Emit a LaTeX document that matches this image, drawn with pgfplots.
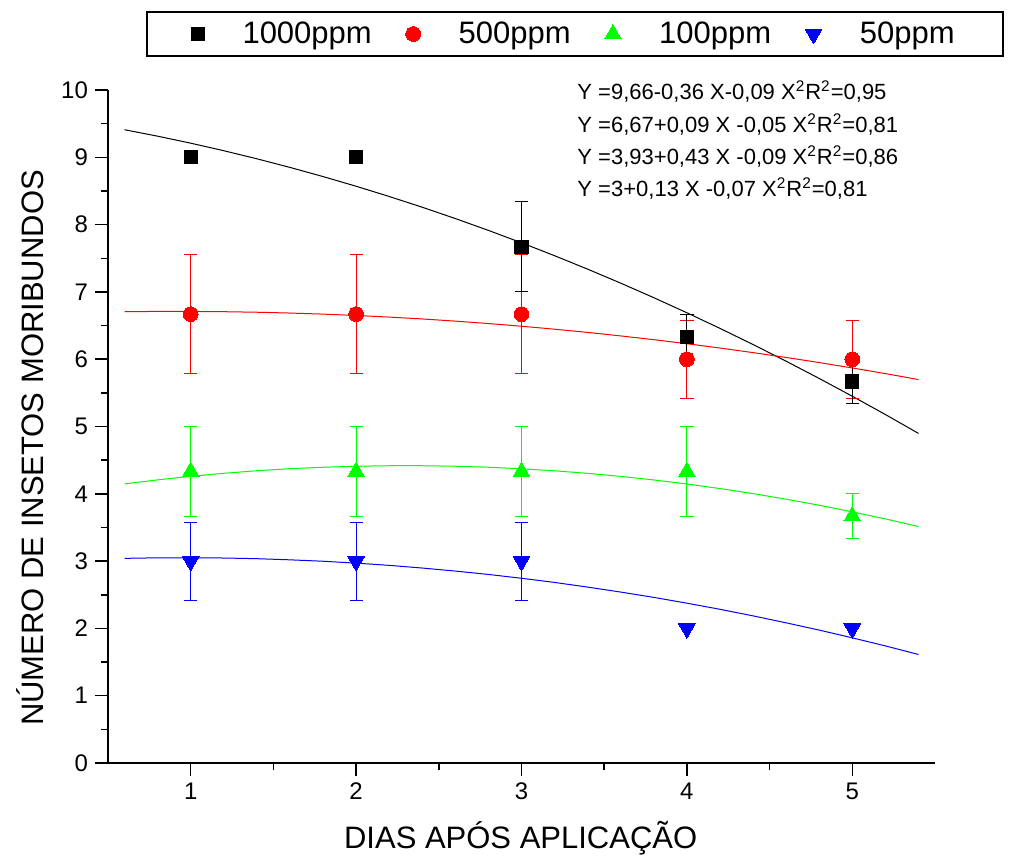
\documentclass[border=0pt]{standalone}
\usepackage{fontspec}
\setmainfont{Liberation Sans}
\usepackage{pgfplots}
\usepackage{pgfplotstable}
\pgfplotsset{compat=1.18}

% measured points: x, y, error
\pgfplotstableread{
x y e
3 7.67 0.67
4 6.33 0.33
5 5.67 0.33
}\blackerr
\pgfplotstableread{
x y
1 9.00
2 9.00
3 7.67
4 6.33
5 5.67
}\blackpts
\pgfplotstableread{
x y e
1 6.67 0.88
2 6.67 0.88
3 6.67 0.88
4 6.00 0.58
5 6.00 0.58
}\redpts
\pgfplotstableread{
x y e
1 4.33 0.67
2 4.33 0.67
3 4.33 0.67
4 4.33 0.67
5 3.67 0.33
}\greenpts
\pgfplotstableread{
x y e
1 3.00 0.58
2 3.00 0.58
3 3.00 0.58
}\blueerr
\pgfplotstableread{
x y
1 3.00
2 3.00
3 3.00
4 2.00
5 2.00
}\bluepts

% fitted curves
\pgfplotstableread{
x k r g b
0.6 9.410 6.706 4.147 3.041
0.8 9.314 6.710 4.207 3.049
1.0 9.210 6.710 4.260 3.050
1.2 9.098 6.706 4.305 3.046
1.4 8.978 6.698 4.343 3.036
1.6 8.850 6.686 4.373 3.019
1.8 8.714 6.670 4.395 2.998
2.0 8.570 6.650 4.410 2.970
2.2 8.418 6.626 4.417 2.937
2.4 8.258 6.598 4.417 2.897
2.6 8.090 6.566 4.410 2.852
2.8 7.914 6.530 4.395 2.802
3.0 7.730 6.490 4.372 2.745
3.2 7.538 6.446 4.342 2.683
3.4 7.338 6.398 4.304 2.614
3.6 7.130 6.346 4.259 2.540
3.8 6.914 6.290 4.206 2.461
4.0 6.690 6.230 4.146 2.375
4.2 6.458 6.166 4.078 2.284
4.4 6.218 6.098 4.003 2.186
4.6 5.970 6.026 3.920 2.083
4.8 5.714 5.950 3.830 1.975
5.0 5.450 5.870 3.732 1.860
5.2 5.178 5.786 3.627 1.740
5.4 4.898 5.698 3.514 1.613
}\fits

\begin{document}
\begin{tikzpicture}
\path[use as bounding box] (-54pt,-48pt) rectangle (454.5pt,381.5pt);
\begin{axis}[
  at={(0pt,0pt)}, anchor=south west,
  scale only axis, width=413.5pt, height=336.5pt,
  clip=false,
  xmin=0.5, xmax=5.5, ymin=0, ymax=10,
  axis x line*=bottom, axis y line*=left,
  axis line style={line width=0.85pt},
  xtick={1,2,3,4,5}, ytick={0,1,...,10},
  minor x tick num=1, minor y tick num=1,
  tick align=outside,
  major tick length=6.5pt, minor tick length=3.5pt,
  every tick/.style={line width=0.75pt, black},
  tick label style={font=\fontsize{12}{14}\selectfont},
  /pgf/number format/assume math mode=true,
  xlabel={DIAS APÓS APLICAÇÃO},
  ylabel={NÚMERO DE INSETOS MORIBUNDOS},
  label style={font=\fontsize{15.5}{18}\selectfont},
  xlabel style={at={(axis description cs:0.499,0)}, anchor=center, yshift=-37.5pt},
  ylabel style={at={(axis description cs:-0.0943,0.468)}, anchor=center},
  legend columns=4,
  legend style={at={(axis description cs:0.5647,1.0832)}, anchor=center,
    draw=black, line width=1pt, font=\fontsize{15.5}{18}\selectfont,
    inner xsep=22pt, inner ysep=3pt,
    /tikz/every odd column/.append style={column sep=17pt},
    /tikz/every even column/.append style={column sep=15pt}},
  legend cell align=left,
  error bars/error bar style={line width=0.5pt},
  error bars/error mark options={line width=0.5pt, mark size=3.3pt, rotate=90},
]
% curves
\addplot[black, line width=0.5pt, forget plot] table[x=x, y=k] {\fits};
\addplot[red, line width=0.5pt, forget plot] table[x=x, y=r] {\fits};
\addplot[green, line width=0.5pt, forget plot] table[x=x, y=g] {\fits};
\addplot[blue, line width=0.5pt, forget plot] table[x=x, y=b] {\fits};
% error bars
\addplot[green, only marks, mark=none, forget plot, error bars/.cd, y dir=both, y explicit]
  table[x=x, y=y, y error=e] {\greenpts};
\addplot[blue, only marks, mark=none, forget plot, error bars/.cd, y dir=both, y explicit]
  table[x=x, y=y, y error=e] {\blueerr};
\addplot[red, only marks, mark=none, forget plot, error bars/.cd, y dir=both, y explicit]
  table[x=x, y=y, y error=e] {\redpts};
\addplot[black, only marks, mark=none, forget plot, error bars/.cd, y dir=both, y explicit]
  table[x=x, y=y, y error=e] {\blackerr};
% markers
\addplot[only marks, mark=square*, mark size=3.3pt, draw=black, fill=black, line width=0pt]
  table[x=x, y=y] {\blackpts};
\addlegendentry{1000ppm}
\addplot[only marks, mark=*, mark size=3.7pt, draw=red, fill=red, line width=0pt]
  table[x=x, y=y] {\redpts};
\addlegendentry{500ppm}
\addplot[only marks, mark=triangle*, mark size=4.8pt, draw=green, fill=green, line width=0pt]
  table[x=x, y=y] {\greenpts};
\addlegendentry{100ppm}
\addplot[only marks, mark=triangle*, mark size=4.8pt, mark options={rotate=180}, draw=blue, fill=blue, line width=0pt]
  table[x=x, y=y] {\bluepts};
\addlegendentry{50ppm}
% regression equations
\node[anchor=base west, font=\fontsize{11}{13}\selectfont, inner sep=0pt] at (axis cs:3.336,9.862) {Y =9,66-0,36 X-0,09 X\textsuperscript{2}R\textsuperscript{2}=0,95};
\node[anchor=base west, font=\fontsize{11}{13}\selectfont, inner sep=0pt] at (axis cs:3.336,9.372) {Y =6,67+0,09 X -0,05 X\textsuperscript{2}R\textsuperscript{2}=0,81};
\node[anchor=base west, font=\fontsize{11}{13}\selectfont, inner sep=0pt] at (axis cs:3.336,8.893) {Y =3,93+0,43 X -0,09 X\textsuperscript{2}R\textsuperscript{2}=0,86};
\node[anchor=base west, font=\fontsize{11}{13}\selectfont, inner sep=0pt] at (axis cs:3.336,8.418) {Y =3+0,13 X -0,07 X\textsuperscript{2}R\textsuperscript{2}=0,81};
\end{axis}
\end{tikzpicture}
\end{document}
